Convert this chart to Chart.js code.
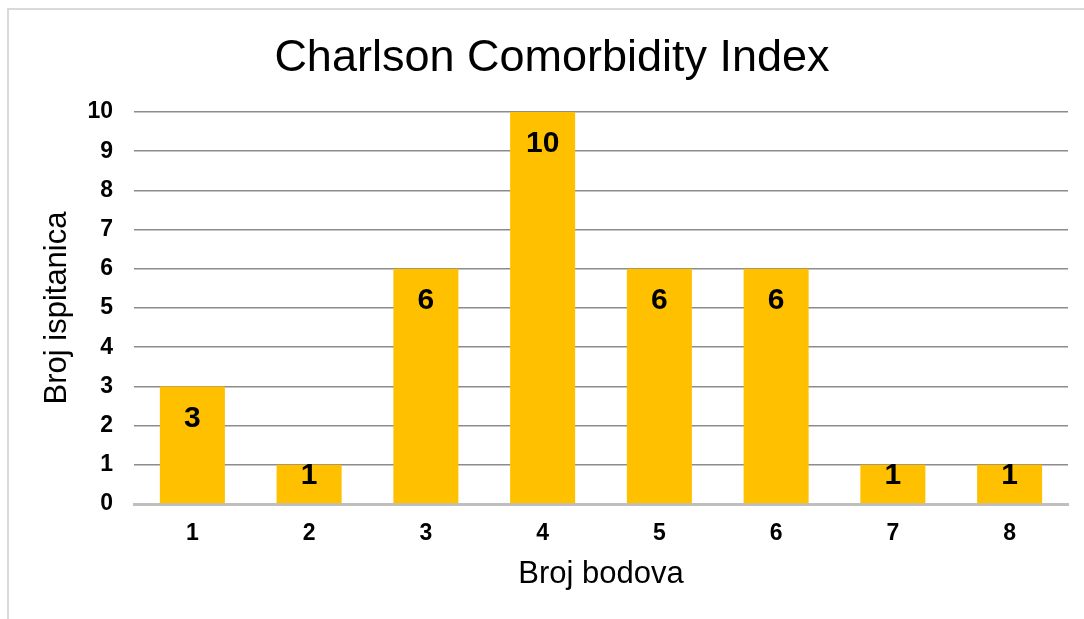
<!DOCTYPE html>
<html>
<head>
<meta charset="utf-8">
<script src="https://cdn.jsdelivr.net/npm/chart.js@4/dist/chart.umd.min.js"></script>
<style>
  html, body { margin: 0; padding: 0; background: #fff; }
  #wrap { position: relative; width: 1084px; height: 619px; }
  #frame { position: absolute; left: 7px; top: 8px; right: 0; bottom: 0; border-left: 2px solid #D9D9D9; border-top: 2px solid #D9D9D9; pointer-events: none; }
  canvas { position: absolute; left: 0; top: 0; }
</style>
</head>
<body>
<div id="wrap">
  <canvas id="c" width="1084" height="619"></canvas>
  <div id="frame"></div>
</div>
<script>
const chartTitle = "Charlson Comorbidity Index";
const xTitle = "Broj bodova";
const yTitle = "Broj ispitanica";
const categories = ["1", "2", "3", "4", "5", "6", "7", "8"];
const counts = [3, 1, 6, 10, 6, 6, 1, 1];
const yTicks = [0, 1, 2, 3, 4, 5, 6, 7, 8, 9, 10];

const FONT = "'Liberation Sans', Arial, sans-serif";

const valueLabels = {
  id: 'valueLabels',
  afterDatasetsDraw(chart) {
    const ctx = chart.ctx;
    const meta = chart.getDatasetMeta(0);
    const base = chart.scales.y.getPixelForValue(0);
    ctx.save();
    ctx.font = "bold 30px " + FONT;
    ctx.fillStyle = "#000";
    ctx.textAlign = "center";
    ctx.textBaseline = "middle";
    meta.data.forEach((bar, i) => {
      const y = Math.min(bar.y + 32, base - 28);
      ctx.fillText(String(counts[i]), bar.x, y);
    });
    ctx.restore();
  }
};

new Chart(document.getElementById('c'), {
  type: 'bar',
  data: {
    labels: categories,
    datasets: [{
      data: counts,
      backgroundColor: '#FFC000',
      borderWidth: 0,
      categoryPercentage: 1,
      barPercentage: 0.557
    }]
  },
  options: {
    responsive: false,
    animation: false,
    devicePixelRatio: 1,
    layout: { padding: { left: 36, right: 16, top: 0, bottom: 0 } },
    plugins: {
      legend: { display: false },
      tooltip: { enabled: false },
      title: {
        display: true,
        text: chartTitle,
        color: '#000',
        font: { family: FONT, size: 45, weight: 'normal', lineHeight: 1.2 },
        padding: { top: 32, bottom: 26 }
      }
    },
    scales: {
      x: {
        afterFit(scale) { scale.height = 115; },
        grid: { display: false, drawTicks: false },
        border: { display: true, color: '#BFBFBF', width: 3 },
        ticks: {
          color: '#000',
          font: { family: FONT, size: 23, weight: 'bold', lineHeight: 1.2 },
          padding: 16,
          maxRotation: 0
        },
        title: {
          display: true,
          text: xTitle,
          color: '#000',
          font: { family: FONT, size: 31, weight: 'normal', lineHeight: 1.2 },
          padding: { top: 8, bottom: 26 }
        }
      },
      y: {
        min: 0,
        max: 10,
        afterFit(scale) { scale.width = 98; },
        afterBuildTicks(scale) { scale.ticks = yTicks.map(v => ({ value: v })); },
        grid: { color: '#8C8C8C', lineWidth: 1.5, drawTicks: false },
        border: { display: false },
        ticks: {
          color: '#000',
          font: { family: FONT, size: 23, weight: 'bold', lineHeight: 1.2 },
          padding: 21
        },
        title: {
          display: true,
          text: yTitle,
          color: '#000',
          font: { family: FONT, size: 31, weight: 'normal', lineHeight: 1.2 },
          padding: { top: 3, bottom: 10 }
        }
      }
    }
  },
  plugins: [valueLabels]
});
</script>
</body>
</html>
